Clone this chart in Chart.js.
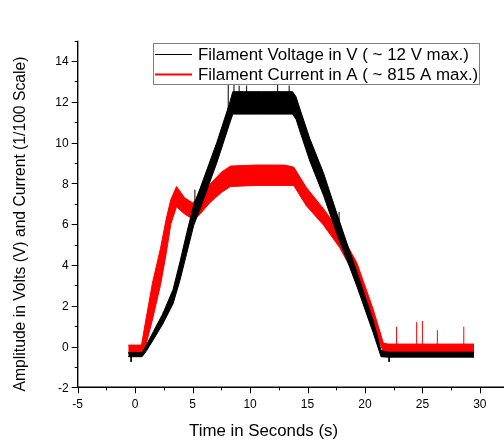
<!DOCTYPE html>
<html><head><meta charset="utf-8">
<script src="https://cdn.jsdelivr.net/npm/chart.js@4/dist/chart.umd.min.js"></script>
<style>html,body{margin:0;padding:0;background:#fff}#wrap{width:504px;height:444px}</style>
</head><body><div id="wrap"><canvas id="c" width="504" height="444"></canvas></div>
<script>
const seriesNames = ['Filament Voltage in V ( ~ 12 V max.)', 'Filament Current in A ( ~ 815 A max.)'];
const xTitle = 'Time in Seconds (s)';
const yTitle = 'Amplitude in Volts (V) and Current (1/100 Scale)';
const xTickValues = [-5, 0, 5, 10, 15, 20, 25, 30];
const xMinorValues = [-2.5, 2.5, 7.5, 12.5, 17.5, 22.5, 27.5];
const yTickValues = [-2, 0, 2, 4, 6, 8, 10, 12, 14];
const yMinorValues = [-1, 1, 3, 5, 7, 9, 11, 13, 15];

// Voltage: noisy trace envelope (upper / lower edges)
const voltT  = [-0.6, 0.6, 1.0, 1.6, 2.4, 3.3, 3.9, 4.5, 5.1, 5.65, 7.1, 8.2, 8.5, 11.0, 13.7, 14.0, 14.4, 15.2, 16.4, 17.6, 18.5, 19.3, 20.7, 21.4, 22.0, 29.5];
const voltHi = [-0.3, -0.3, 0.1, 0.75, 1.6, 2.8, 4.15, 5.6, 6.95, 7.75, 10.0, 11.9, 12.5, 12.5, 12.5, 12.25, 11.55, 10.2, 8.5, 6.45, 4.95, 3.65, 1.3, -0.2, -0.28, -0.28];
const voltLo = [-0.5, -0.5, -0.2, 0.35, 1.1, 2.1, 3.25, 4.6, 5.95, 6.75, 9.0, 10.9, 11.4, 11.4, 11.4, 11.15, 10.45, 9.1, 7.4, 5.45, 4.15, 2.95, 0.7, -0.5, -0.52, -0.52];
// Voltage spikes
const vSpikeX    = [-0.35, 2.45, 5.2, 8.1, 8.6, 9.05, 9.7, 12.4, 13.4, 17.75, 22.1];
const vSpikeFrom = [-0.4, 1.3, 6.4, 11.5, 12.3, 12.3, 12.3, 12.3, 12.3, 6.0, -0.4];
const vSpikeTo   = [-0.75, 1.7, 7.7, 12.85, 12.85, 12.8, 12.8, 12.9, 12.8, 6.6, -0.75];

// Current (1/100 scale): envelope
const currT  = [-0.6, 0.55, 0.9, 1.5, 2.2, 2.7, 3.1, 3.6, 4.3, 5.0, 5.5, 6.5, 7.5, 8.3, 10.5, 13.0, 13.8, 14.9, 16.4, 17.8, 19.3, 20.7, 21.6, 22.0, 29.5];
const currHi = [0.07, 0.07, 1.2, 3.1, 4.8, 6.25, 7.2, 7.85, 7.3, 7.05, 7.3, 7.95, 8.55, 8.85, 8.9, 8.9, 8.8, 7.8, 6.75, 5.65, 4.1, 1.85, 0.17, 0.12, 0.12];
const currLo = [-0.33, -0.33, 0.0, 1.3, 3.0, 4.55, 6.0, 6.85, 6.5, 6.25, 6.4, 7.05, 7.55, 7.85, 7.9, 7.9, 7.9, 6.9, 5.95, 4.85, 3.3, 1.05, -0.27, -0.32, -0.32];
// Current spikes
const cSpikeX    = [22.75, 24.5, 25.0, 26.3, 28.6];
const cSpikeFrom = [0.1, 0.1, 0.1, 0.1, 0.1];
const cSpikeTo   = [0.97, 1.2, 1.25, 0.8, 0.97];

const pts = (xs, ys) => xs.map((x, i) => ({x: x, y: ys[i]}));
const spikes = (xs, a, b) => {
  const out = [];
  xs.forEach((x, i) => { out.push({x: x, y: a[i]}, {x: x, y: b[i]}, {x: x, y: null}); });
  return out;
};
const BLACK = '#000000', RED = '#ff0000';
const band = (data, color, fill) => ({data, borderColor: color, backgroundColor: color, borderWidth: 1, pointRadius: 0, showLine: true, fill: fill, tension: 0});

const datasets = [
  Object.assign(band(spikes(vSpikeX, vSpikeFrom, vSpikeTo), BLACK, false), {spanGaps: false}),
  band(pts(voltT, voltHi), BLACK, '+1'),
  band(pts(voltT, voltLo), BLACK, false),
  Object.assign(band(spikes(cSpikeX, cSpikeFrom, cSpikeTo), RED, false), {spanGaps: false}),
  band(pts(currT, currHi), RED, '+1'),
  band(pts(currT, currLo), RED, false)
];

const FONT = '"Liberation Sans", Arial, sans-serif';
function fitFont(ctx, text, target) {
  ctx.font = '16px ' + FONT;
  return 16 * target / ctx.measureText(text).width;
}

const decor = {
  id: 'decor',
  afterDraw(chart) {
    const ctx = chart.ctx, xs = chart.scales.x, ys = chart.scales.y, ca = chart.chartArea;
    ctx.save();
    ctx.strokeStyle = '#000';
    ctx.fillStyle = '#000';
    // axis lines
    ctx.lineWidth = 1.4;
    ctx.beginPath();
    ctx.moveTo(ca.left, ca.top); ctx.lineTo(ca.left, ca.bottom); ctx.lineTo(ca.right, ca.bottom);
    ctx.stroke();
    ctx.lineWidth = 1;
    // x ticks
    ctx.beginPath();
    xTickValues.forEach(v => { const p = Math.round(xs.getPixelForValue(v)) + 0.5; ctx.moveTo(p, ca.bottom); ctx.lineTo(p, ca.bottom + 6); });
    xMinorValues.forEach(v => { const p = Math.round(xs.getPixelForValue(v)) + 0.5; ctx.moveTo(p, ca.bottom); ctx.lineTo(p, ca.bottom + 3); });
    yTickValues.forEach(v => { const p = Math.round(ys.getPixelForValue(v)) + 0.5; ctx.moveTo(ca.left, p); ctx.lineTo(ca.left - 6, p); });
    yMinorValues.forEach(v => { const p = Math.round(ys.getPixelForValue(v)) + 0.5; ctx.moveTo(ca.left, p); ctx.lineTo(ca.left - 3, p); });
    ctx.stroke();
    // tick labels
    ctx.font = '12px ' + FONT;
    ctx.textAlign = 'center'; ctx.textBaseline = 'alphabetic';
    xTickValues.forEach(v => ctx.fillText(String(v), xs.getPixelForValue(v), ca.bottom + 21));
    ctx.textAlign = 'right';
    yTickValues.forEach(v => ctx.fillText(String(v), ca.left - 9, ys.getPixelForValue(v) + 4.3));
    // axis titles
    let fs = fitFont(ctx, xTitle, 149);
    ctx.font = fs.toFixed(2) + 'px ' + FONT;
    ctx.textAlign = 'center'; ctx.textBaseline = 'middle';
    ctx.fillText(xTitle, 263.5, 431);
    fs = fitFont(ctx, yTitle, 335);
    ctx.font = fs.toFixed(2) + 'px ' + FONT;
    ctx.translate(21, 224); ctx.rotate(-Math.PI / 2);
    ctx.fillText(yTitle, 0, 0);
    ctx.setTransform(1, 0, 0, 1, 0, 0);
    // legend
    ctx.fillStyle = '#fff';
    ctx.fillRect(153.5, 43.5, 326, 41);
    ctx.strokeStyle = '#7f7f7f'; ctx.lineWidth = 1;
    ctx.strokeRect(153.5, 43.5, 326, 41);
    const rows = [[seriesNames[0], BLACK, 1, 54.5], [seriesNames[1], RED, 2, 74.5]];
    fs = fitFont(ctx, seriesNames[0], 271);
    ctx.font = fs.toFixed(2) + 'px ' + FONT;
    ctx.textAlign = 'left'; ctx.textBaseline = 'middle';
    rows.forEach(r => {
      ctx.strokeStyle = r[1]; ctx.lineWidth = r[2];
      ctx.beginPath(); ctx.moveTo(155, r[3]); ctx.lineTo(192, r[3]); ctx.stroke();
      ctx.fillStyle = '#000';
      ctx.fillText(r[0], 198, r[3] + 1);
    });
    ctx.restore();
  }
};

new Chart(document.getElementById('c'), {
  type: 'scatter',
  data: {datasets},
  options: {
    responsive: false, animation: false, devicePixelRatio: 1,
    layout: {padding: {top: 40.7, right: 0, left: 0, bottom: 0}},
    plugins: {legend: {display: false}, tooltip: {enabled: false}},
    scales: {
      x: {type: 'linear', min: -5, max: 32.1, grid: {display: false}, border: {display: false}, ticks: {display: false},
          afterFit: s => { s.height = 56.7; }},
      y: {type: 'linear', min: -2, max: 15, grid: {display: false}, border: {display: false}, ticks: {display: false},
          afterFit: s => { s.width = 77.7; }}
    }
  },
  plugins: [decor]
});
</script></body></html>
